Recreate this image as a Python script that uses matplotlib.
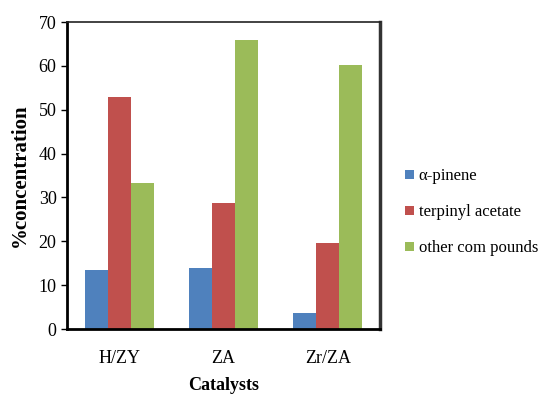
import numpy as np
import matplotlib.pyplot as plt

plt.rcParams['font.family'] = ['Liberation Serif', 'DejaVu Serif']

catalysts = ['H/ZY', 'ZA', 'Zr/ZA']
series = ['\u03b1-pinene', 'terpinyl acetate', 'other com pounds']
alpha_pinene = [13.4, 13.8, 3.6]
terpinyl_acetate = [53.0, 28.7, 19.7]
other_compounds = [33.4, 66.0, 60.1]
colors = ['#4F81BD', '#C0504D', '#9BBB59']

fig = plt.figure(figsize=(5.5, 3.98), dpi=100)
ax = fig.add_axes([67/550, 1-329/398, 313/550, 307/398])

x = np.arange(len(catalysts))
w = 0.22
for i, (vals, lab) in enumerate(zip([alpha_pinene, terpinyl_acetate, other_compounds], series)):
    ax.bar(x + (i-1)*w, vals, w, color=colors[i], label=lab)

ax.set_xlim(-0.5, 2.5)
ax.set_ylim(0, 70)
ax.set_yticks(np.arange(0, 71, 10))
ax.set_xticks(x)
ax.set_xticklabels(catalysts, fontsize=13)
ax.tick_params(axis='y', labelsize=13, length=4, width=1, direction='out')
ax.tick_params(axis='x', length=0, pad=15)
ax.set_ylabel('%concentration', fontsize=15, fontweight='bold', labelpad=6)
ax.set_xlabel('Catalysts', fontsize=13, fontweight='bold', labelpad=7)

ax.spines['left'].set_linewidth(2)
ax.spines['bottom'].set_linewidth(2)
ax.spines['right'].set_linewidth(2.5)
ax.spines['right'].set_color('#333333')
ax.spines['top'].set_linewidth(1.2)
ax.spines['top'].set_color('#222222')

ax.legend(loc='center left', bbox_to_anchor=(1.06, 0.38), frameon=False,
          fontsize=12, handlelength=0.5, handleheight=0.5, handletextpad=0.3,
          labelspacing=1.2, borderaxespad=0)

plt.savefig('out.png', dpi=100)
